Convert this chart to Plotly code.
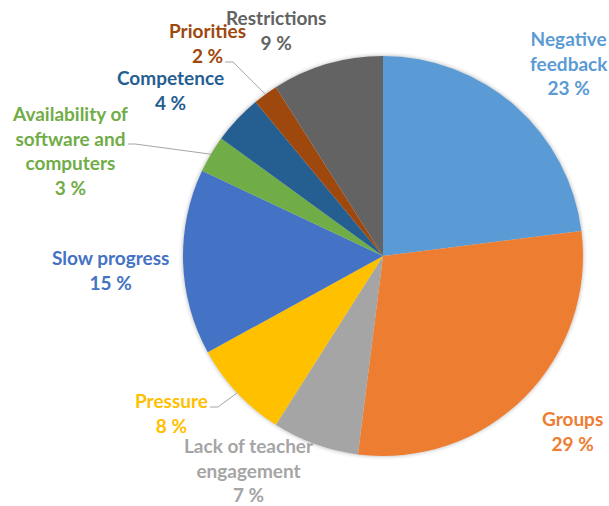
import plotly.graph_objects as go
import math

# ---------------- data ----------------
categories = ["Negative feedback", "Groups", "Lack of teacher engagement", "Pressure",
              "Slow progress", "Availability of software and computers", "Competence",
              "Priorities", "Restrictions"]
values = [23, 29, 7, 8, 15, 3, 4, 2, 9]

# ---------------- style ----------------
colors = ["#5B9BD5", "#ED7D31", "#A5A5A5", "#FFC000", "#4472C4",
          "#70AD47", "#255E91", "#9E480E", "#636363"]
label_wrap = {
    "Negative feedback": "Negative<br>feedback",
    "Lack of teacher engagement": "Lack of teacher<br>engagement",
    "Availability of software and computers": "Availability of<br>software and<br>computers",
}
W, H = 609, 506
CX, CY, R = 383, 256, 200           # pie centre / radius in pixels
# label centres (pixels, y down)
label_pos = [(569, 63), (572, 431), (249, 470), (171, 413), (110, 270),
             (70, 150), (170, 90), (207, 43), (276, 30)]
# leader lines: category -> (start point near label, elbow point)
leaders = {
    "Priorities": ((225, 62), (233, 62)),
    "Availability of software and computers": ((128, 144), (135, 144)),
    "Pressure": ((210, 407), (218, 407)),
}
FONT = "Lato, 'Open Sans', sans-serif"

fig = go.Figure()

def dom(pad):
    return dict(x=[(CX - R - pad) / W, (CX + R + pad) / W],
                y=[1 - (CY + R + pad) / H, 1 - (CY - R - pad) / H])

# soft shadow
for pad, a in [(4, 0.025), (2.5, 0.04), (1.2, 0.06)]:
    fig.add_trace(go.Pie(values=[1], labels=["s"], domain=dom(pad), sort=False,
                         marker=dict(colors=[f"rgba(0,0,0,{a})"], line=dict(width=0)),
                         textinfo="none", hoverinfo="skip", showlegend=False))

fig.add_trace(go.Pie(labels=categories, values=values, domain=dom(0), sort=False,
                     direction="clockwise", rotation=0,
                     marker=dict(colors=colors, line=dict(width=0)),
                     textinfo="none", showlegend=False))

# invisible axes in pixels for labels and leader lines
fig.update_xaxes(visible=False, range=[0, W], fixedrange=True)
fig.update_yaxes(visible=False, range=[H, 0], fixedrange=True)
fig.add_trace(go.Scatter(x=[0], y=[0], mode="markers", marker=dict(opacity=0),
                         hoverinfo="skip", showlegend=False))

total = sum(values)
cum = 0
for i, (cat, v) in enumerate(zip(categories, values)):
    mid = (cum + v / 2) / total * 2 * math.pi
    cum += v
    text = f"{label_wrap.get(cat, cat)}<br>{v} %"
    lx, ly = label_pos[i]
    fig.add_annotation(x=lx, y=ly, xref="x", yref="y", text=text, showarrow=False,
                       xanchor="center", yanchor="middle", align="center", borderpad=0,
                       font=dict(family=FONT, size=19, color=colors[i], weight="bold"))
    if cat in leaders:
        (sx, sy), (ex, ey) = leaders[cat]
        px = CX + R * math.sin(mid)
        py = CY - R * math.cos(mid)
        fig.add_shape(type="path", xref="x", yref="y",
                      path=f"M {sx} {sy} L {ex} {ey} L {px:.1f} {py:.1f}",
                      line=dict(color="#A6A6A6", width=1))

fig.update_layout(width=W, height=H, margin=dict(l=0, r=0, t=0, b=0),
                  paper_bgcolor="white", plot_bgcolor="rgba(0,0,0,0)")
fig.write_html("out.html", config={"displayModeBar": False},
               post_script="document.body.style.margin='0';"
                           "document.documentElement.style.overflow='hidden';")
